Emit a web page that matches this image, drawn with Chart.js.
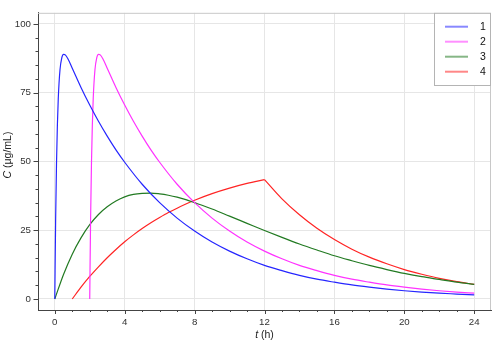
<!DOCTYPE html>
<html>
<head>
<meta charset="utf-8">
<script src="https://cdn.jsdelivr.net/npm/chart.js@4.4.1/dist/chart.umd.min.js"></script>
<style>
  html, body { margin: 0; padding: 0; background: #fff; }
  #pkChart { display: block; }
</style>
</head>
<body>
<canvas id="pkChart" width="500" height="349"></canvas>
<script>
// concentration curves, C in µg/mL against t in h
const blueT = [0, 0.05, 0.1, 0.15, 0.2, 0.3, 0.4, 0.5, 0.6, 0.75, 1, 1.5, 2, 2.5, 3, 3.5, 4, 5, 6, 7, 8, 9, 10, 11, 12, 13, 14, 15, 16, 17, 18, 19, 20, 21, 22, 23, 24];
const blueC = [0, 29.4, 49.6, 63.4, 72.9, 83.4, 87.6, 88.9, 88.7, 87.3, 83.9, 76.9, 70.5, 64.6, 59.2, 54.2, 49.7, 41.7, 35.0, 29.4, 24.7, 20.7, 17.4, 14.6, 12.2, 10.3, 8.6, 7.2, 6.1, 5.1, 4.3, 3.6, 3.0, 2.5, 2.1, 1.8, 1.5];

const pinkT = [2, 2.05, 2.1, 2.15, 2.2, 2.3, 2.4, 2.5, 2.6, 2.75, 3, 3.5, 4, 4.5, 5, 5.5, 6, 7, 8, 9, 10, 11, 12, 13, 14, 15, 16, 17, 18, 19, 20, 21, 22, 23, 24];
const pinkC = [0, 29.4, 49.6, 63.4, 72.9, 83.4, 87.6, 88.9, 88.7, 87.3, 83.9, 76.9, 70.5, 64.6, 59.2, 54.2, 49.7, 41.7, 35.0, 29.4, 24.7, 20.7, 17.4, 14.6, 12.2, 10.3, 8.6, 7.2, 6.1, 5.1, 4.3, 3.6, 3.0, 2.5, 2.1];

const greenT = [0, 0.5, 1, 1.5, 2, 2.5, 3, 3.5, 4, 4.5, 5, 5.5, 6, 6.5, 7, 7.5, 8, 9, 10, 11, 12, 13, 14, 15, 16, 17, 18, 19, 20, 21, 22, 23, 24];
const greenC = [0, 8.9, 16.3, 22.2, 27.0, 30.7, 33.5, 35.6, 37.1, 38.0, 38.4, 38.5, 38.2, 37.7, 37.0, 36.1, 35.0, 32.7, 30.1, 27.5, 24.9, 22.4, 20.0, 17.8, 15.7, 13.9, 12.2, 10.7, 9.3, 8.1, 7.1, 6.1, 5.3];

// infusion: rise until 12 h, then washout
const redRiseT = [1, 1.5, 2, 2.5, 3, 3.5, 4, 4.5, 5, 5.5, 6, 6.5, 7, 7.5, 8, 9, 10, 11, 12];
const redRiseC = [0, 4.3, 8.2, 11.7, 15.0, 18.0, 20.8, 23.3, 25.6, 27.7, 29.6, 31.4, 33.0, 34.5, 35.9, 38.3, 40.3, 42.0, 43.4];
const redFallT = [12, 13, 14, 15, 16, 17, 18, 19, 20, 21, 22, 23, 24];
const redFallC = [43.4, 36.4, 30.6, 25.7, 21.6, 18.1, 15.2, 12.8, 10.7, 9.0, 7.5, 6.3, 5.3];

const xTicks = [0, 4, 8, 12, 16, 20, 24];
const yTicks = [0, 25, 50, 75, 100];

const FONT = "'Liberation Sans', Arial, sans-serif";
const COLORS = { c1: "#2626ff", c2: "#ff33ff", c3: "#227a22", c4: "#ff2424" };

const pts = (ts, cs) => ts.map((t, i) => ({ x: t, y: cs[i] }));

const lineStyle = (color) => ({
  borderColor: color,
  backgroundColor: color,
  borderWidth: 1.2,
  pointRadius: 0,
  fill: false,
  cubicInterpolationMode: "monotone",
});

// frame, minor/major ticks, axis titles, legend box
const decorPlugin = {
  id: "decor",
  beforeDatasetsDraw(chart) {
    const { ctx, chartArea: a } = chart;
    ctx.save();
    ctx.strokeStyle = "#c8c8c8";
    ctx.lineWidth = 1;
    ctx.beginPath();
    ctx.moveTo(a.left, a.top + 0.5);
    ctx.lineTo(a.right - 0.5, a.top + 0.5);
    ctx.lineTo(a.right - 0.5, a.bottom);
    ctx.stroke();
    ctx.restore();
  },
  afterDraw(chart) {
    const { ctx, chartArea: a, scales } = chart;
    const xs = scales.x, ys = scales.y;
    ctx.save();

    // tick marks, pointing out of the plot
    ctx.strokeStyle = "#444";
    ctx.lineWidth = 1;
    ctx.beginPath();
    for (let v = 0; v <= 24; v += 1) {
      const px = Math.round(xs.getPixelForValue(v)) + 0.5;
      const len = v % 4 === 0 ? 4 : 2;
      ctx.moveTo(px, a.bottom);
      ctx.lineTo(px, a.bottom + len);
    }
    for (let v = 0; v <= 100; v += 5) {
      const py = Math.round(ys.getPixelForValue(v)) + 0.5;
      const len = v % 25 === 0 ? 4.5 : 2.5;
      ctx.moveTo(a.left, py);
      ctx.lineTo(a.left - len, py);
    }
    ctx.stroke();

    // axis titles, italic symbol + plain unit
    ctx.fillStyle = "#222";
    ctx.textBaseline = "middle";
    const drawTitle = (sym, rest, cx, cy, rot) => {
      ctx.save();
      ctx.translate(cx, cy);
      ctx.rotate(rot);
      ctx.font = "italic 10.5px " + FONT;
      const w1 = ctx.measureText(sym).width;
      ctx.font = "10.5px " + FONT;
      const w2 = ctx.measureText(rest).width;
      let x0 = -(w1 + w2) / 2;
      ctx.textAlign = "left";
      ctx.font = "italic 10.5px " + FONT;
      ctx.fillText(sym, x0, 0);
      ctx.font = "10.5px " + FONT;
      ctx.fillText(rest, x0 + w1, 0);
      ctx.restore();
    };
    drawTitle("t", " (h)", (a.left + a.right) / 2, 335, 0);
    drawTitle("C", " (\u03bcg/mL)", 8, 155, -Math.PI / 2);

    // legend
    const boxL = 434, boxT = a.top, boxR = a.right, boxB = 86;
    ctx.fillStyle = "#fff";
    ctx.fillRect(boxL, boxT, boxR - boxL, boxB - boxT);
    ctx.strokeStyle = "#b4b4b4";
    ctx.strokeRect(boxL + 0.5, boxT + 0.5, boxR - boxL - 1, boxB - boxT - 1);
    let row = 0;
    chart.data.datasets.forEach((ds) => {
      if (ds.hideInLegend) return;
      const y = 26.7 + row * 15;
      ctx.globalAlpha = 0.55;
      ctx.strokeStyle = ds.borderColor;
      ctx.lineWidth = 2;
      ctx.beginPath();
      ctx.moveTo(445, y);
      ctx.lineTo(468, y);
      ctx.stroke();
      ctx.globalAlpha = 1;
      ctx.fillStyle = "#111";
      ctx.font = "10.5px " + FONT;
      ctx.textAlign = "left";
      ctx.fillText(ds.label, 480, y + 0.5);
      row++;
    });
    ctx.restore();
  },
};

try {
  const ctx = document.getElementById("pkChart").getContext("2d");
  new Chart(ctx, {
    type: "line",
    data: {
      datasets: [
        { label: "1", data: pts(blueT, blueC), ...lineStyle(COLORS.c1) },
        { label: "2", data: pts(pinkT, pinkC), ...lineStyle(COLORS.c2) },
        { label: "3", data: pts(greenT, greenC), ...lineStyle(COLORS.c3) },
        { label: "4", data: pts(redRiseT, redRiseC), ...lineStyle(COLORS.c4) },
        { label: "4", data: pts(redFallT, redFallC), ...lineStyle(COLORS.c4), hideInLegend: true },
      ],
    },
    options: {
      responsive: false,
      animation: false,
      layout: { padding: { top: 12, right: 9, left: 0, bottom: 0 } },
      plugins: { legend: { display: false }, tooltip: { enabled: false } },
      scales: {
        x: {
          type: "linear",
          min: -0.96,
          max: 24.96,
          afterBuildTicks: (s) => { s.ticks = xTicks.map((v) => ({ value: v })); },
          afterFit: (s) => { s.height = 39; },
          grid: { color: "#e6e6e6", drawTicks: false },
          border: { color: "#444", width: 1 },
          ticks: { color: "#333", font: { family: FONT, size: 9.7 }, padding: 7, maxRotation: 0, autoSkip: false },
        },
        y: {
          type: "linear",
          min: -4,
          max: 104,
          afterBuildTicks: (s) => { s.ticks = yTicks.map((v) => ({ value: v })); },
          afterFit: (s) => { s.width = 38; },
          grid: { color: "#e6e6e6", drawTicks: false },
          border: { color: "#444", width: 1 },
          ticks: { color: "#333", font: { family: FONT, size: 9.7 }, padding: 7 },
        },
      },
    },
    plugins: [decorPlugin],
  });
} catch (e) {
  console.error("chart error:", e);
}
</script>
</body>
</html>
